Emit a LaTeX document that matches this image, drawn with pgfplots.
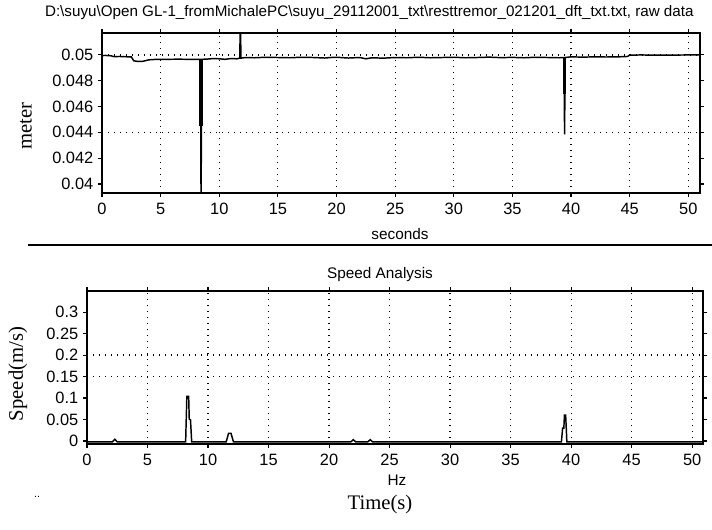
\documentclass[border=0pt]{standalone}
\usepackage{fontspec}
\setmainfont{Liberation Sans}
\newfontfamily\serif{Liberation Serif}
\usepackage{pgfplots}
\pgfplotsset{compat=1.18}
\begin{document}
\begin{tikzpicture}
\useasboundingbox (0,0) rectangle (534pt,396.75pt);
\pgfplotsset{
  every axis/.append style={
    scale only axis,
    axis line style={line width=1.6pt},
    tick label style={font=\fontsize{12.3}{13}\selectfont},
    xticklabel style={yshift=-1pt},
    /pgf/number format/assume math mode=true,
    tick align=outside,
    major tick length=3pt,
    tick style={black, line width=0.8pt},
    xmajorgrids=true,
    grid style={black, line width=0.9pt, dash pattern=on 0.9pt off 3.6pt},
    extra tick style={grid=major, major tick length=0pt},
    xtick={0,5,...,50},
    xmin=0,
    clip=true,
  }
}
% ---------- top axis ----------
\begin{axis}[
  at={(76.5pt,252pt)}, anchor=south west,
  width=448.5pt, height=120pt,
  xmax=51,
  ymin=0.0393, ymax=0.0517,
  ytick={0.04,0.042,0.044,0.046,0.048,0.05},
  yticklabels={0.04,0.042,0.044,0.046,0.048,0.05},
  extra y ticks={0.044,0.05},
  extra y tick labels={},
  scaled y ticks=false,
]
\addplot[black, line width=1.1pt] coordinates {
(0,0.04995) (0.3,0.04996) (0.8,0.04993) (1.0,0.04987) (1.5,0.04988) (2.0,0.04986)
(2.5,0.04985) (2.7,0.04955) (3.0,0.04950) (3.5,0.04951) (4.0,0.04962) (4.5,0.04965)
(5.5,0.04966) (6.5,0.04967) (7.5,0.04966) (8.4,0.04966) (8.45,0.0380) (8.5,0.04966)
(9.0,0.04968) (9.5,0.04972) (10,0.04970) (10.5,0.04966) (11.0,0.04972) (11.5,0.04970)
(11.75,0.04975) (11.8,0.0530) (11.85,0.04975) (12.2,0.04980) (13,0.04978) (14,0.04982)
(15,0.04980) (16,0.04978) (17,0.04982) (18,0.04980) (19,0.04976) (19.5,0.04980)
(20,0.04982) (21,0.04976) (22,0.04980) (22.5,0.04970) (23,0.04978) (24,0.04975)
(25,0.04980) (26,0.04978) (27,0.04982) (28,0.04978) (29,0.04980) (30,0.04982)
(31,0.04978) (32,0.04980) (33,0.04983) (34,0.04979) (35,0.04981) (36,0.04978)
(37,0.04982) (38,0.04980) (39,0.04978) (39.4,0.04980) (39.45,0.04385) (39.5,0.04980)
(40,0.04985) (41,0.04983) (42,0.04985) (43,0.04984) (44,0.04985) (44.8,0.04988)
(45,0.04998) (46,0.05000) (47,0.04998) (48,0.04999) (49,0.04999) (50,0.05000) (51,0.05000)
};
\addplot[black, line width=2.6pt] coordinates {(8.45,0.0445) (8.45,0.04966)};
\addplot[black, line width=2.6pt] coordinates {(39.45,0.0470) (39.45,0.04980)};
\end{axis}
% ---------- bottom axis ----------
\begin{axis}[
  at={(65.25pt,63.75pt)}, anchor=south west,
  width=462pt, height=114.75pt,
  xmax=50.9,
  ymin=-0.007, ymax=0.349,
  ytick={0,0.05,0.1,0.15,0.2,0.25,0.3},
  yticklabels={0,0.05,0.1,0.15,0.2,0.25,0.3},
  extra y ticks={0.15,0.2},
  extra y tick labels={},
  scaled y ticks=false,
]
\addplot[black, line width=1.1pt] coordinates {
(0,-0.002) (2.1,-0.002) (2.3,0.004) (2.5,-0.002) (8.15,-0.002) (8.25,0.104) (8.4,0.104)
(8.45,0.05) (8.55,0.05) (8.65,-0.002) (11.5,-0.002) (11.7,0.018) (11.9,0.018) (12.1,-0.002)
(21.8,-0.002) (22.0,0.003) (22.2,-0.002) (23.2,-0.002) (23.4,0.003) (23.6,-0.002)
(39.2,-0.002) (39.3,0.03) (39.4,0.03) (39.45,0.06) (39.55,0.06) (39.6,0.03) (39.65,-0.002)
(50.9,-0.002)
};
\end{axis}
% ---------- texts ----------
\node[font=\fontsize{11.4}{12}\selectfont] at (277pt,387pt)
  {D:\textbackslash suyu\textbackslash Open GL-1\_fromMichalePC\textbackslash suyu\_29112001\_txt\textbackslash resttremor\_021201\_dft\_txt.txt, raw data};
\node[font=\fontsize{11.5}{12}\selectfont] at (300pt,221pt) {seconds};
\draw[black, line width=1.1pt] (21pt,213pt) -- (534pt,213pt);
\node[font=\fontsize{11.5}{12}\selectfont] at (285pt,190.5pt) {Speed Analysis};
\node[font=\fontsize{11.5}{12}\selectfont] at (297.75pt,36.5pt) {Hz};
\node[font=\serif\fontsize{15.5}{16}\selectfont] at (285pt,18.5pt) {Time(s)};
\node[font=\serif\fontsize{15.5}{16}\selectfont, rotate=90] at (19.5pt,302.25pt) {meter};
\node[font=\serif\fontsize{15.5}{16}\selectfont, rotate=90] at (13.5pt,116.25pt) {Speed(m/s)};
\node[font=\fontsize{8}{8}\selectfont] at (27.75pt,24pt) {..};
\end{tikzpicture}
\end{document}
